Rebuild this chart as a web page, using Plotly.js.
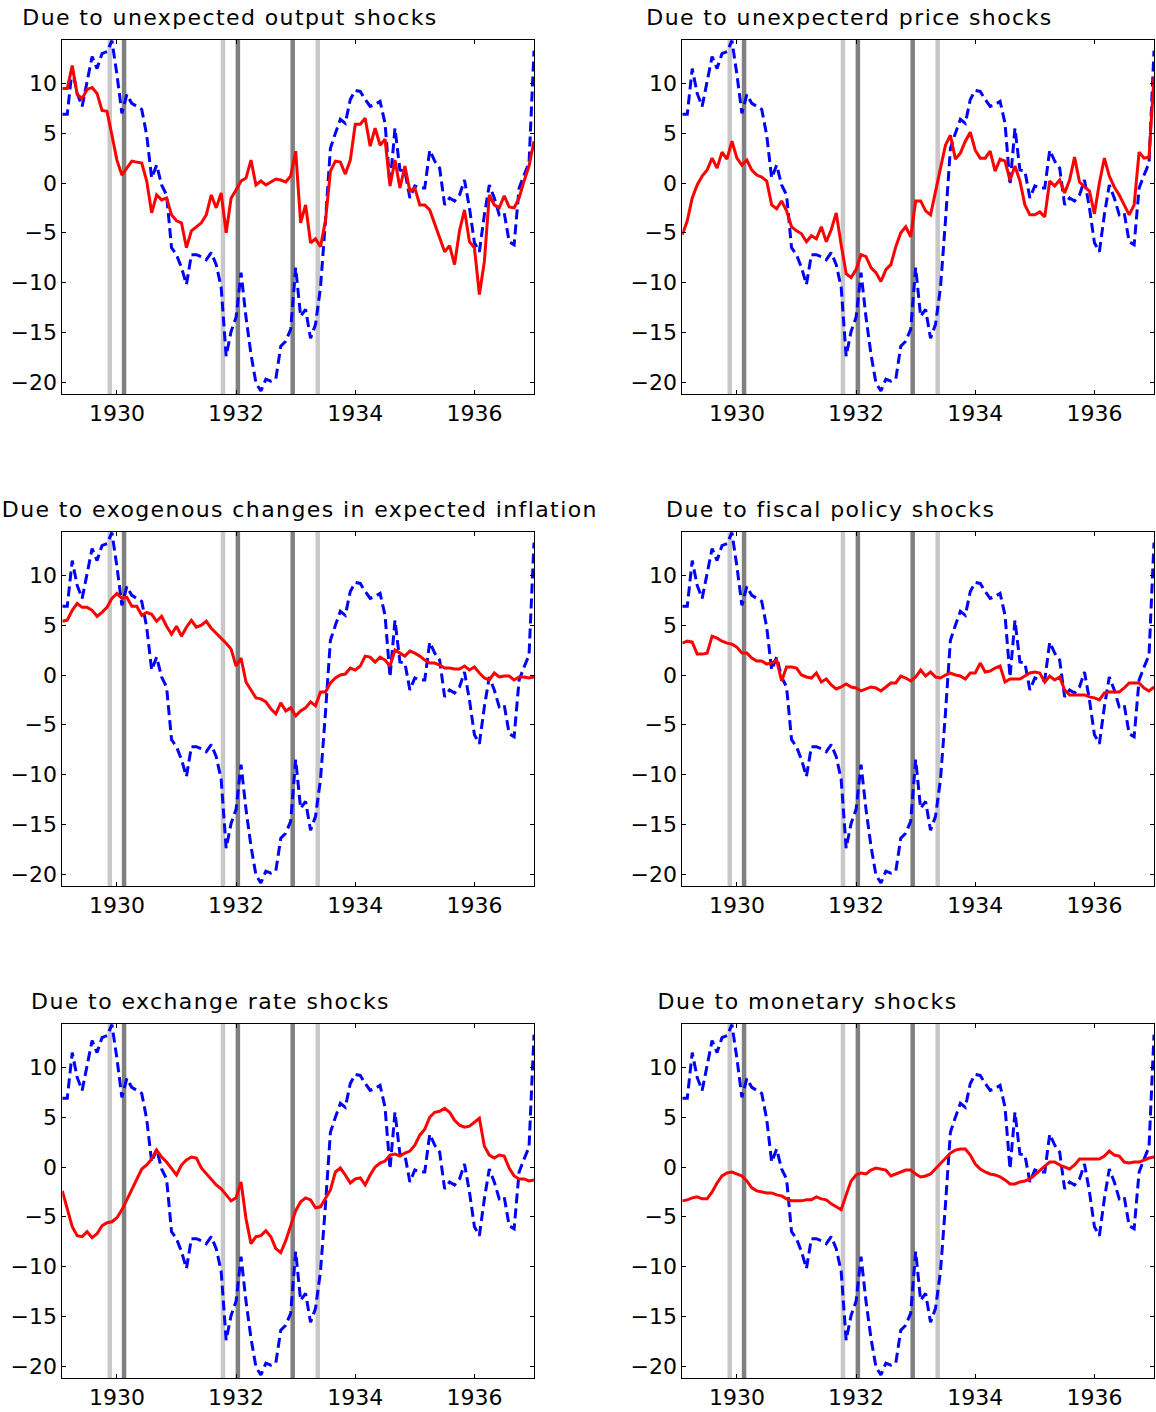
<!DOCTYPE html>
<html>
<head>
<meta charset="utf-8">
<script src="https://cdn.plot.ly/plotly-3.0.1.min.js"></script>
<style>
html,body{margin:0;padding:0;background:#fff;}
#chart{width:1156px;height:1412px;}
#chart .annotation-text{letter-spacing:1.4px;}
</style>
</head>
<body>
<div id="chart"></div>
<script>
// Monthly observations, Jan 1929 .. Dec 1936 (plotted at year + month/12)
const startYear = 1929;
const nMonths = 96;

// Actual series (blue dashed), same in every panel
const actual = [
  6.9, 6.9, 11.5, 9.0, 7.7, 10.2, 12.7, 11.5, 13.0, 13.2,
  14.3, 10.9, 7.0, 8.9, 8.0, 7.7, 7.4, 4.8, 0.5, 1.8,
  -0.2, -1.2, -6.5, -7.2, -8.5, -10.2, -7.2, -7.2, -7.4, -7.7,
  -7.0, -8.2, -10.5, -17.4, -14.9, -13.5, -9.0, -13.5, -17.2, -20.1,
  -20.9, -19.7, -19.9, -19.7, -16.4, -15.9, -14.7, -8.5, -13.4, -12.7,
  -15.6, -14.2, -10.5, -3.8, 3.5, 5.0, 6.4, 6.0, 8.4, 9.3,
  9.2, 8.4, 7.7, 7.9, 8.2, 6.0, -0.2, 5.5, 1.3, 1.2,
  -1.5, -0.3, -0.5, -0.5, 3.3, 2.2, 1.5, -2.2, -1.5, -1.8,
  -1.2, 0.3, -2.5, -6.0, -6.9, -3.2, -0.2, -1.5, -3.2, -3.0,
  -5.9, -6.2, -0.5, 0.8, 2.0, 13.3
];

// Contributions (red solid)
const outputShocks = [
  9.5, 9.5, 11.8, 8.9, 8.5, 9.4, 9.6, 9.0, 7.3, 7.2,
  4.8, 2.3, 0.8, 1.5, 2.2, 2.1, 2.0, 0.2, -3.0, -1.2,
  -1.7, -1.5, -3.2, -3.8, -4.0, -6.5, -4.8, -4.4, -4.0, -3.2,
  -1.2, -2.5, -1.0, -5.0, -1.5, -0.7, 0.2, 0.5, 2.3, -0.2,
  0.2, -0.2, 0.1, 0.4, 0.3, 0.1, 0.7, 3.2, -4.0, -2.2,
  -6.0, -5.6, -6.4, -3.8, 1.2, 2.2, 2.1, 0.9, 2.3, 5.9,
  5.9, 6.5, 3.7, 5.5, 3.8, 4.4, -0.3, 2.3, -0.5, 1.7,
  -0.8, -0.5, -2.2, -2.2, -2.7, -4.2, -5.5, -6.9, -6.3, -8.2,
  -4.8, -2.7, -5.9, -6.5, -11.2, -7.9, -1.2, -2.2, -2.5, -1.3,
  -2.4, -2.5, -1.5, 0.2, 1.7, 4.2
];
const priceShocks = [
  -5.2, -3.8, -1.5, -0.2, 0.7, 1.3, 2.5, 1.5, 3.1, 2.4,
  4.2, 2.5, 1.8, 2.3, 1.3, 0.8, 0.6, 0.2, -2.2, -2.6,
  -1.8, -2.8, -4.4, -4.8, -5.1, -5.9, -5.3, -5.6, -4.4, -5.9,
  -4.7, -3.0, -6.2, -9.1, -9.5, -8.7, -7.2, -7.4, -8.5, -9.0,
  -9.9, -8.7, -8.2, -6.4, -5.0, -4.4, -5.4, -1.8, -1.8, -2.8,
  -3.2, -1.0, 1.5, 3.8, 4.8, 2.4, 3.0, 4.2, 5.1, 3.3,
  2.5, 2.5, 3.2, 1.2, 2.4, 2.2, 0.3, 1.7, 0.2, -2.2,
  -3.2, -3.2, -2.9, -3.4, 0.2, -0.3, 0.3, -1.0, 0.3, 2.6,
  0.1, -0.4, -0.8, -3.1, 0.0, 2.5, 0.7, -0.4, -1.2, -2.2,
  -3.2, -2.2, 3.1, 2.5, 2.6, 10.7
];
const inflationExpectations = [
  5.4, 5.5, 6.5, 7.2, 6.8, 6.8, 6.5, 5.9, 6.3, 6.8,
  7.7, 8.2, 7.7, 7.8, 6.9, 6.9, 6.0, 6.3, 6.1, 5.4,
  5.9, 4.9, 4.1, 4.9, 3.9, 4.8, 5.5, 4.8, 5.0, 5.4,
  4.7, 4.2, 3.8, 3.2, 2.6, 0.9, 1.7, -0.7, -1.5, -2.3,
  -2.4, -2.7, -3.4, -3.9, -2.8, -3.6, -3.3, -4.1, -3.6, -3.3,
  -2.7, -3.1, -1.7, -1.7, -0.8, -0.3, 0.0, 0.1, 0.7, 0.5,
  0.9, 1.9, 1.8, 1.3, 1.8, 1.5, 0.9, 2.5, 2.2, 1.9,
  2.4, 2.2, 1.9, 1.5, 1.2, 1.2, 1.0, 0.7, 0.7, 0.6,
  0.6, 0.9, 0.5, 0.8, 0.2, -0.3, -0.5, 0.2, -0.2, -0.1,
  -0.1, -0.5, -0.2, -0.2, -0.3, -0.2
];
const fiscalShocks = [
  3.2, 3.4, 3.3, 2.1, 2.1, 2.2, 3.9, 3.7, 3.4, 3.2,
  3.1, 2.8, 2.2, 2.2, 1.7, 1.4, 1.4, 1.1, 1.2, 1.5,
  -0.6, 0.8, 0.8, 0.7, 0.0, -0.2, -0.3, 0.2, -0.7, -0.4,
  -1.0, -1.4, -1.2, -0.9, -1.2, -1.3, -1.6, -1.4, -1.2, -1.3,
  -1.6, -1.2, -0.8, -0.8, -0.1, -0.3, -0.6, -0.2, 0.5, -0.1,
  0.3, -0.2, -0.3, 0.0, 0.2, 0.0, -0.1, -0.4, 0.2, 0.2,
  1.2, 0.3, 0.4, 0.7, 0.9, -0.7, -0.4, -0.4, -0.4, -0.1,
  0.2, 0.3, 0.2, -0.7, -0.1, -0.5, -0.2, -1.5, -2.0, -2.0,
  -2.0, -2.0, -2.2, -2.3, -2.5, -1.8, -1.7, -1.7, -1.7, -1.3,
  -0.8, -0.8, -0.8, -1.3, -1.6, -1.2
];
const exchangeRateShocks = [
  -2.4, -4.3, -6.0, -6.9, -7.0, -6.5, -7.1, -6.7, -5.9, -5.6,
  -5.5, -5.1, -4.3, -3.3, -2.3, -1.3, -0.2, 0.2, 0.8, 1.7,
  1.0, 0.5, -0.1, -0.8, 0.2, 0.7, 1.0, 0.9, -0.1, -0.7,
  -1.3, -1.8, -2.2, -2.8, -3.4, -3.1, -1.5, -5.2, -7.7, -7.0,
  -6.9, -6.4, -7.0, -8.2, -8.6, -7.4, -5.9, -4.4, -3.5, -3.1,
  -3.3, -4.1, -4.0, -3.2, -2.3, -0.5, -0.1, -0.8, -1.6, -1.2,
  -1.1, -1.8, -0.8, 0.0, 0.4, 0.6, 1.2, 1.3, 1.1, 1.4,
  1.6, 2.2, 3.2, 3.8, 5.0, 5.5, 5.6, 5.9, 5.5, 4.7,
  4.2, 4.0, 4.1, 4.5, 4.9, 2.1, 1.2, 0.9, 1.2, 1.1,
  -0.1, -0.9, -1.2, -1.2, -1.4, -1.3
];
const monetaryShocks = [
  -3.4, -3.3, -3.1, -3.0, -3.2, -3.2, -2.5, -1.6, -0.9, -0.6,
  -0.5, -0.7, -0.9, -1.4, -2.1, -2.4, -2.5, -2.6, -2.6, -2.8,
  -2.9, -3.2, -3.4, -3.4, -3.4, -3.3, -3.3, -3.0, -3.2, -3.3,
  -3.7, -4.0, -4.3, -2.8, -1.4, -0.8, -0.6, -0.7, -0.3, -0.1,
  -0.2, -0.3, -0.9, -0.7, -0.5, -0.3, -0.3, -0.7, -1.0, -0.9,
  -0.7, -0.2, 0.3, 0.9, 1.4, 1.7, 1.8, 1.8, 1.2, 0.3,
  -0.2, -0.5, -0.7, -0.8, -1.0, -1.3, -1.7, -1.7, -1.5, -1.4,
  -1.2, -0.8, -0.3, 0.1, 0.5, 0.5, 0.2, 0.0, -0.2, 0.2,
  0.8, 0.8, 0.8, 0.8, 0.8, 1.1, 1.6, 1.2, 1.1, 0.5,
  0.4, 0.5, 0.5, 0.7, 0.9, 1.0
];

const panelTitles = [
  "Due to unexpected output shocks",
  "Due to unexpecterd price shocks",
  "Due to exogenous changes in expected inflation",
  "Due to fiscal policy shocks",
  "Due to exchange rate shocks",
  "Due to monetary shocks"
];
const panelSeries = [outputShocks, priceShocks, inflationExpectations, fiscalShocks, exchangeRateShocks, monetaryShocks];

// Event markers (vertical bands)
const lightEvents = [1929.88, 1931.78, 1933.37];
const darkEvents = [1930.12, 1932.03, 1932.95];

const xTickVals = [1930, 1932, 1934, 1936];
const xTickText = ["1930", "1932", "1934", "1936"];
const yTickVals = [-20, -15, -10, -5, 0, 5, 10];
const yTickText = ["\u221220", "\u221215", "\u221210", "\u22125", "0", "5", "10"];

// ---- presentation ----
const W = 1156, H = 1412;
const dates = [];
for (let k = 0; k < nMonths; k++) dates.push(startYear + (k + 1) / 12);

const colLeft = [62.3, 682.3];
const plotW = 471.7;
const rowTop = [39.7, 531.7, 1023.7];
const plotH = 354.3;
const titleCenter = [229.5, 849, 299.5, 830, 210.5, 807.5];

const tickFont = {family: "DejaVu Sans", size: 22, color: "#000"};
const data = [];
const layout = {
  width: W, height: H,
  margin: {l: 0, r: 0, t: 0, b: 0},
  paper_bgcolor: "#fff", plot_bgcolor: "#fff",
  showlegend: false,
  shapes: [], annotations: []
};

for (let p = 0; p < 6; p++) {
  const r = Math.floor(p / 2), c = p % 2;
  const sfx = p === 0 ? "" : String(p + 1);
  const xa = "x" + sfx, ya = "y" + sfx;
  layout["xaxis" + sfx] = {
    domain: [colLeft[c] / W, (colLeft[c] + plotW) / W],
    range: [startYear + 1 / 12, startYear + nMonths / 12],
    anchor: ya, tickvals: xTickVals, ticktext: xTickText,
    ticks: "inside", ticklen: 4, tickcolor: "#000", tickwidth: 1,
    showline: true, linecolor: "#000", linewidth: 1, mirror: "ticks",
    showgrid: false, zeroline: false, tickfont: tickFont, fixedrange: true
  };
  layout["yaxis" + sfx] = {
    domain: [1 - (rowTop[r] + plotH) / H, 1 - rowTop[r] / H],
    range: [-21.2, 14.4],
    anchor: xa, tickvals: yTickVals, ticktext: yTickText,
    ticks: "inside", ticklen: 4, tickcolor: "#000", tickwidth: 1,
    showline: true, linecolor: "#000", linewidth: 1, mirror: "ticks",
    showgrid: false, zeroline: false, tickfont: tickFont, fixedrange: true
  };
  lightEvents.forEach(d => layout.shapes.push({
    type: "line", xref: xa, yref: ya + " domain", x0: d, x1: d, y0: 0, y1: 1,
    line: {color: "#c8c8c8", width: 4.5}, layer: "below"
  }));
  darkEvents.forEach(d => layout.shapes.push({
    type: "line", xref: xa, yref: ya + " domain", x0: d, x1: d, y0: 0, y1: 1,
    line: {color: "#808080", width: 4.5}, layer: "below"
  }));
  data.push({
    x: dates, y: actual, xaxis: xa, yaxis: ya, type: "scatter", mode: "lines",
    line: {color: "#0000ff", width: 3, dash: "10px,5px"}, hoverinfo: "skip"
  });
  data.push({
    x: dates, y: panelSeries[p], xaxis: xa, yaxis: ya, type: "scatter", mode: "lines",
    line: {color: "#ff0000", width: 3}, hoverinfo: "skip"
  });
  layout.annotations.push({
    text: panelTitles[p], xref: "paper", yref: "paper",
    x: titleCenter[p] / W, xanchor: "center",
    y: 1 - (rowTop[r] - 22) / H, yanchor: "middle",
    showarrow: false, font: {family: "DejaVu Sans", size: 22, color: "#000"}
  });
}

Plotly.newPlot("chart", data, layout, {staticPlot: true});
</script>
</body>
</html>
